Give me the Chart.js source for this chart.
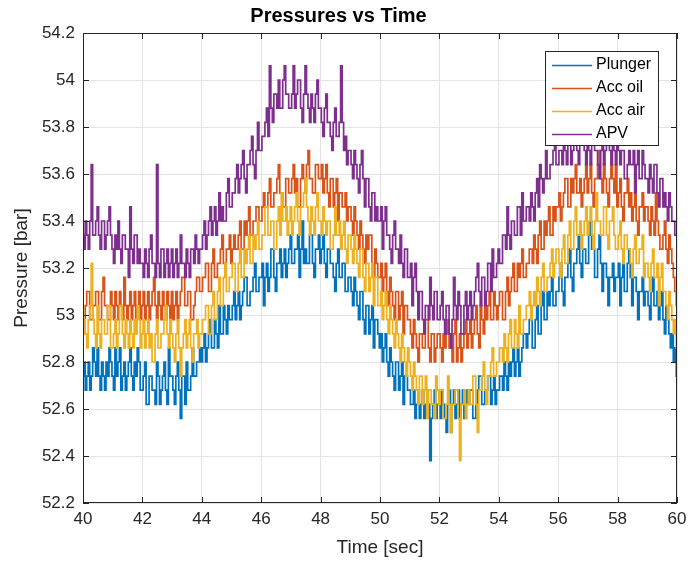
<!DOCTYPE html>
<html>
<head>
<meta charset="utf-8">
<script src="https://cdn.jsdelivr.net/npm/chart.js@4.4.0/dist/chart.umd.min.js"></script>
<style>
  html, body { margin: 0; padding: 0; background: #fff; }
  canvas { display: block; }
</style>
</head>
<body>
<canvas id="grafico" width="688" height="563"></canvas>
<script>
// tempo em segundos, amostrado a cada 0.05 s (uma linha = 1 segundo)
const tempos = [
  40.00, 40.05, 40.10, 40.15, 40.20, 40.25, 40.30, 40.35, 40.40, 40.45, 40.50, 40.55, 40.60, 40.65, 40.70, 40.75, 40.80, 40.85, 40.90, 40.95,
  41.00, 41.05, 41.10, 41.15, 41.20, 41.25, 41.30, 41.35, 41.40, 41.45, 41.50, 41.55, 41.60, 41.65, 41.70, 41.75, 41.80, 41.85, 41.90, 41.95,
  42.00, 42.05, 42.10, 42.15, 42.20, 42.25, 42.30, 42.35, 42.40, 42.45, 42.50, 42.55, 42.60, 42.65, 42.70, 42.75, 42.80, 42.85, 42.90, 42.95,
  43.00, 43.05, 43.10, 43.15, 43.20, 43.25, 43.30, 43.35, 43.40, 43.45, 43.50, 43.55, 43.60, 43.65, 43.70, 43.75, 43.80, 43.85, 43.90, 43.95,
  44.00, 44.05, 44.10, 44.15, 44.20, 44.25, 44.30, 44.35, 44.40, 44.45, 44.50, 44.55, 44.60, 44.65, 44.70, 44.75, 44.80, 44.85, 44.90, 44.95,
  45.00, 45.05, 45.10, 45.15, 45.20, 45.25, 45.30, 45.35, 45.40, 45.45, 45.50, 45.55, 45.60, 45.65, 45.70, 45.75, 45.80, 45.85, 45.90, 45.95,
  46.00, 46.05, 46.10, 46.15, 46.20, 46.25, 46.30, 46.35, 46.40, 46.45, 46.50, 46.55, 46.60, 46.65, 46.70, 46.75, 46.80, 46.85, 46.90, 46.95,
  47.00, 47.05, 47.10, 47.15, 47.20, 47.25, 47.30, 47.35, 47.40, 47.45, 47.50, 47.55, 47.60, 47.65, 47.70, 47.75, 47.80, 47.85, 47.90, 47.95,
  48.00, 48.05, 48.10, 48.15, 48.20, 48.25, 48.30, 48.35, 48.40, 48.45, 48.50, 48.55, 48.60, 48.65, 48.70, 48.75, 48.80, 48.85, 48.90, 48.95,
  49.00, 49.05, 49.10, 49.15, 49.20, 49.25, 49.30, 49.35, 49.40, 49.45, 49.50, 49.55, 49.60, 49.65, 49.70, 49.75, 49.80, 49.85, 49.90, 49.95,
  50.00, 50.05, 50.10, 50.15, 50.20, 50.25, 50.30, 50.35, 50.40, 50.45, 50.50, 50.55, 50.60, 50.65, 50.70, 50.75, 50.80, 50.85, 50.90, 50.95,
  51.00, 51.05, 51.10, 51.15, 51.20, 51.25, 51.30, 51.35, 51.40, 51.45, 51.50, 51.55, 51.60, 51.65, 51.70, 51.75, 51.80, 51.85, 51.90, 51.95,
  52.00, 52.05, 52.10, 52.15, 52.20, 52.25, 52.30, 52.35, 52.40, 52.45, 52.50, 52.55, 52.60, 52.65, 52.70, 52.75, 52.80, 52.85, 52.90, 52.95,
  53.00, 53.05, 53.10, 53.15, 53.20, 53.25, 53.30, 53.35, 53.40, 53.45, 53.50, 53.55, 53.60, 53.65, 53.70, 53.75, 53.80, 53.85, 53.90, 53.95,
  54.00, 54.05, 54.10, 54.15, 54.20, 54.25, 54.30, 54.35, 54.40, 54.45, 54.50, 54.55, 54.60, 54.65, 54.70, 54.75, 54.80, 54.85, 54.90, 54.95,
  55.00, 55.05, 55.10, 55.15, 55.20, 55.25, 55.30, 55.35, 55.40, 55.45, 55.50, 55.55, 55.60, 55.65, 55.70, 55.75, 55.80, 55.85, 55.90, 55.95,
  56.00, 56.05, 56.10, 56.15, 56.20, 56.25, 56.30, 56.35, 56.40, 56.45, 56.50, 56.55, 56.60, 56.65, 56.70, 56.75, 56.80, 56.85, 56.90, 56.95,
  57.00, 57.05, 57.10, 57.15, 57.20, 57.25, 57.30, 57.35, 57.40, 57.45, 57.50, 57.55, 57.60, 57.65, 57.70, 57.75, 57.80, 57.85, 57.90, 57.95,
  58.00, 58.05, 58.10, 58.15, 58.20, 58.25, 58.30, 58.35, 58.40, 58.45, 58.50, 58.55, 58.60, 58.65, 58.70, 58.75, 58.80, 58.85, 58.90, 58.95,
  59.00, 59.05, 59.10, 59.15, 59.20, 59.25, 59.30, 59.35, 59.40, 59.45, 59.50, 59.55, 59.60, 59.65, 59.70, 59.75, 59.80, 59.85, 59.90, 59.95,
  60.00
]

const plunger = [
  52.74, 52.80, 52.68, 52.74, 52.80, 52.68, 52.74, 52.86, 52.80, 52.74, 52.86, 52.74, 52.68, 52.80, 52.74, 52.68, 52.80, 52.74, 52.86, 52.80,
  52.74, 52.68, 52.86, 52.74, 52.80, 52.86, 52.68, 52.74, 52.80, 52.68, 52.74, 52.80, 52.86, 52.74, 52.68, 52.80, 52.74, 52.86, 52.80, 52.68,
  52.68, 52.74, 52.80, 52.62, 52.62, 52.74, 52.74, 52.68, 52.68, 52.62, 52.80, 52.74, 52.62, 52.68, 52.74, 52.80, 52.68, 52.62, 52.86, 52.74,
  52.74, 52.68, 52.62, 52.74, 52.80, 52.68, 52.56, 52.74, 52.74, 52.62, 52.80, 52.68, 52.68, 52.74, 52.86, 52.74, 52.74, 52.80, 52.80, 52.86,
  52.80, 52.86, 52.92, 52.80, 52.86, 52.92, 52.98, 52.86, 52.86, 52.98, 52.92, 52.86, 53.04, 52.92, 52.92, 53.04, 52.98, 52.92, 53.04, 52.98,
  52.98, 53.04, 53.10, 52.98, 53.04, 53.10, 52.98, 53.04, 53.10, 53.16, 53.16, 53.04, 53.04, 53.10, 53.10, 53.16, 53.22, 53.10, 53.10, 53.16,
  53.16, 53.22, 53.04, 53.16, 53.22, 53.10, 53.16, 53.28, 53.28, 53.16, 53.10, 53.22, 53.22, 53.28, 53.16, 53.22, 53.28, 53.16, 53.22, 53.28,
  53.34, 53.22, 53.22, 53.28, 53.28, 53.34, 53.16, 53.28, 53.40, 53.22, 53.28, 53.22, 53.22, 53.34, 53.34, 53.22, 53.16, 53.28, 53.28, 53.34,
  53.22, 53.28, 53.34, 53.22, 53.16, 53.28, 53.28, 53.22, 53.22, 53.16, 53.10, 53.22, 53.28, 53.16, 53.16, 53.22, 53.22, 53.10, 53.10, 53.16,
  53.16, 53.10, 53.04, 53.16, 53.10, 53.04, 52.98, 53.10, 53.10, 52.98, 52.92, 53.04, 53.04, 52.92, 52.98, 53.04, 52.86, 52.98, 52.98, 52.92,
  52.86, 52.92, 52.80, 52.86, 52.92, 52.80, 52.74, 52.86, 52.80, 52.74, 52.68, 52.80, 52.80, 52.68, 52.74, 52.80, 52.62, 52.74, 52.74, 52.68,
  52.68, 52.62, 52.62, 52.68, 52.56, 52.62, 52.68, 52.56, 52.62, 52.68, 52.56, 52.62, 52.68, 52.62, 52.38, 52.56, 52.62, 52.68, 52.56, 52.62,
  52.62, 52.56, 52.68, 52.62, 52.56, 52.50, 52.62, 52.68, 52.50, 52.62, 52.68, 52.56, 52.62, 52.68, 52.56, 52.62, 52.68, 52.56, 52.62, 52.68,
  52.62, 52.68, 52.68, 52.56, 52.56, 52.62, 52.68, 52.74, 52.74, 52.62, 52.62, 52.68, 52.68, 52.74, 52.74, 52.62, 52.68, 52.74, 52.62, 52.68,
  52.68, 52.74, 52.74, 52.68, 52.80, 52.74, 52.68, 52.80, 52.74, 52.80, 52.86, 52.74, 52.80, 52.86, 52.74, 52.80, 52.86, 52.92, 52.92, 52.86,
  52.92, 52.98, 52.98, 52.86, 52.86, 52.98, 53.04, 52.92, 52.92, 53.04, 53.10, 52.98, 52.98, 53.10, 53.04, 53.10, 53.16, 53.04, 53.04, 53.10,
  53.10, 53.16, 53.22, 53.10, 53.04, 53.16, 53.16, 53.22, 53.28, 53.16, 53.10, 53.22, 53.22, 53.28, 53.34, 53.22, 53.16, 53.28, 53.28, 53.22,
  53.22, 53.34, 53.40, 53.28, 53.28, 53.16, 53.16, 53.28, 53.34, 53.22, 53.10, 53.22, 53.22, 53.16, 53.04, 53.16, 53.16, 53.22, 53.10, 53.16,
  53.16, 53.22, 53.04, 53.16, 53.22, 53.10, 53.10, 53.22, 53.28, 53.16, 53.04, 53.16, 53.16, 53.10, 52.98, 53.10, 53.10, 53.16, 53.04, 53.10,
  53.10, 53.04, 52.98, 53.10, 53.16, 53.04, 53.04, 53.10, 52.98, 53.04, 53.10, 52.98, 52.92, 53.04, 52.98, 52.92, 52.86, 52.92, 52.80, 52.86,
  52.74
]

const accOil = [
  52.92, 52.98, 53.04, 53.10, 53.10, 52.98, 52.98, 53.04, 53.04, 53.10, 53.10, 52.98, 52.98, 53.10, 53.16, 53.04, 53.04, 52.98, 52.98, 53.10,
  53.04, 52.98, 53.10, 53.04, 52.98, 53.10, 53.04, 52.98, 53.16, 53.04, 52.98, 53.04, 53.10, 52.98, 53.04, 53.10, 52.98, 53.04, 53.10, 52.98,
  53.04, 53.10, 52.98, 53.04, 53.10, 52.98, 53.04, 53.10, 53.16, 53.04, 52.98, 53.10, 53.04, 52.98, 53.10, 53.04, 52.98, 53.10, 53.04, 52.98,
  53.10, 52.98, 53.04, 53.10, 52.98, 53.04, 53.10, 53.16, 53.16, 53.04, 53.04, 53.10, 53.10, 52.98, 52.98, 53.04, 53.10, 53.16, 53.16, 53.10,
  53.10, 53.16, 53.16, 53.22, 53.22, 53.10, 53.10, 53.22, 53.28, 53.16, 53.16, 53.22, 53.22, 53.28, 53.34, 53.22, 53.22, 53.28, 53.28, 53.34,
  53.22, 53.28, 53.34, 53.28, 53.28, 53.34, 53.40, 53.28, 53.28, 53.40, 53.34, 53.40, 53.46, 53.34, 53.34, 53.40, 53.40, 53.46, 53.46, 53.40,
  53.40, 53.46, 53.52, 53.46, 53.46, 53.52, 53.58, 53.46, 53.46, 53.52, 53.52, 53.58, 53.64, 53.52, 53.52, 53.46, 53.46, 53.58, 53.58, 53.52,
  53.52, 53.58, 53.64, 53.52, 53.58, 53.46, 53.46, 53.58, 53.64, 53.58, 53.52, 53.64, 53.70, 53.58, 53.58, 53.52, 53.52, 53.64, 53.64, 53.58,
  53.58, 53.64, 53.52, 53.58, 53.64, 53.52, 53.46, 53.58, 53.58, 53.46, 53.52, 53.58, 53.40, 53.52, 53.52, 53.46, 53.46, 53.52, 53.40, 53.46,
  53.46, 53.40, 53.34, 53.46, 53.40, 53.34, 53.28, 53.40, 53.34, 53.28, 53.22, 53.34, 53.28, 53.34, 53.34, 53.22, 53.16, 53.28, 53.22, 53.16,
  53.16, 53.22, 53.10, 53.16, 53.22, 53.10, 53.04, 53.16, 53.10, 53.04, 52.98, 53.10, 53.10, 52.98, 53.04, 53.10, 52.92, 53.04, 53.04, 52.98,
  52.98, 52.92, 52.86, 52.98, 52.92, 52.86, 52.80, 52.92, 52.92, 52.86, 52.86, 52.98, 52.98, 52.86, 52.80, 52.92, 52.92, 52.80, 52.86, 52.92,
  52.92, 52.86, 52.80, 52.92, 52.86, 52.92, 52.98, 52.86, 52.86, 52.80, 52.92, 52.98, 52.80, 52.86, 52.92, 52.80, 52.86, 52.92, 52.98, 52.86,
  52.92, 52.98, 52.86, 52.92, 52.98, 53.04, 52.92, 52.86, 53.04, 52.98, 52.92, 53.04, 52.98, 53.04, 53.10, 52.98, 52.98, 53.10, 53.04, 52.98,
  53.04, 53.10, 53.10, 52.98, 52.98, 53.10, 53.16, 53.04, 53.10, 53.16, 53.22, 53.10, 53.10, 53.22, 53.16, 53.22, 53.28, 53.16, 53.16, 53.22,
  53.22, 53.28, 53.28, 53.22, 53.34, 53.28, 53.22, 53.34, 53.40, 53.28, 53.28, 53.40, 53.34, 53.40, 53.46, 53.34, 53.34, 53.46, 53.40, 53.46,
  53.46, 53.52, 53.40, 53.46, 53.52, 53.58, 53.58, 53.46, 53.46, 53.58, 53.52, 53.58, 53.64, 53.52, 53.52, 53.58, 53.46, 53.52, 53.58, 53.64,
  53.52, 53.58, 53.64, 53.52, 53.46, 53.58, 53.58, 53.64, 53.70, 53.58, 53.52, 53.64, 53.58, 53.52, 53.46, 53.58, 53.64, 53.58, 53.52, 53.64,
  53.46, 53.52, 53.58, 53.46, 53.40, 53.52, 53.52, 53.58, 53.46, 53.52, 53.40, 53.46, 53.52, 53.40, 53.34, 53.46, 53.46, 53.52, 53.40, 53.46,
  53.46, 53.40, 53.34, 53.46, 53.40, 53.34, 53.52, 53.40, 53.34, 53.28, 53.28, 53.34, 53.40, 53.28, 53.22, 53.34, 53.28, 53.22, 53.16, 53.10,
  53.04
]

const accAir = [
  53.04, 52.98, 52.92, 52.86, 52.98, 53.04, 53.22, 52.98, 52.92, 52.86, 53.04, 52.92, 52.86, 52.98, 52.98, 52.92, 52.92, 53.04, 53.04, 52.86,
  52.86, 52.92, 52.98, 52.86, 52.92, 53.04, 53.04, 52.92, 52.86, 52.98, 52.92, 52.86, 52.98, 52.92, 52.86, 52.98, 52.92, 53.04, 52.98, 52.86,
  52.92, 52.98, 52.86, 52.92, 52.98, 52.86, 52.92, 52.80, 52.80, 52.92, 52.98, 52.86, 52.86, 52.92, 52.92, 52.98, 53.04, 52.92, 52.86, 52.98,
  52.92, 52.86, 52.80, 52.92, 52.98, 52.86, 52.74, 52.86, 52.92, 52.98, 52.86, 52.92, 52.98, 52.86, 52.80, 52.92, 52.92, 52.98, 52.86, 52.92,
  52.92, 52.98, 52.98, 53.04, 53.04, 52.92, 52.92, 53.04, 53.10, 52.98, 52.98, 53.10, 53.16, 53.04, 53.04, 53.16, 53.22, 53.10, 53.10, 53.16,
  53.16, 53.22, 53.22, 53.10, 53.10, 53.22, 53.28, 53.16, 53.16, 53.28, 53.22, 53.28, 53.34, 53.22, 53.22, 53.34, 53.28, 53.34, 53.40, 53.28,
  53.28, 53.34, 53.34, 53.46, 53.46, 53.34, 53.34, 53.40, 53.40, 53.28, 53.28, 53.40, 53.46, 53.34, 53.52, 53.40, 53.40, 53.46, 53.34, 53.40,
  53.46, 53.34, 53.40, 53.46, 53.52, 53.40, 53.34, 53.46, 53.46, 53.52, 53.58, 53.46, 53.40, 53.34, 53.46, 53.40, 53.34, 53.46, 53.52, 53.40,
  53.40, 53.34, 53.46, 53.40, 53.34, 53.40, 53.40, 53.28, 53.28, 53.34, 53.46, 53.34, 53.34, 53.40, 53.28, 53.34, 53.40, 53.28, 53.22, 53.34,
  53.34, 53.28, 53.22, 53.34, 53.28, 53.22, 53.16, 53.28, 53.28, 53.16, 53.10, 53.22, 53.22, 53.10, 53.16, 53.22, 53.04, 53.16, 53.16, 53.04,
  53.04, 53.10, 52.98, 53.04, 53.10, 52.98, 52.92, 53.04, 52.98, 52.92, 52.86, 52.98, 52.92, 52.86, 52.80, 52.92, 52.86, 52.80, 52.74, 52.86,
  52.80, 52.74, 52.68, 52.80, 52.74, 52.68, 52.62, 52.74, 52.74, 52.62, 52.68, 52.74, 52.56, 52.68, 52.68, 52.62, 52.62, 52.56, 52.74, 52.68,
  52.62, 52.68, 52.68, 52.56, 52.56, 52.62, 52.74, 52.62, 52.50, 52.62, 52.62, 52.68, 52.68, 52.56, 52.38, 52.62, 52.62, 52.68, 52.56, 52.62,
  52.68, 52.62, 52.62, 52.74, 52.74, 52.62, 52.50, 52.68, 52.68, 52.74, 52.80, 52.68, 52.62, 52.74, 52.74, 52.80, 52.86, 52.74, 52.74, 52.80,
  52.80, 52.86, 52.86, 52.80, 52.92, 52.86, 52.80, 52.92, 52.98, 52.86, 52.86, 52.98, 52.92, 52.86, 53.04, 52.92, 52.92, 52.98, 52.98, 53.04,
  53.04, 53.10, 52.98, 53.04, 53.10, 53.04, 53.16, 53.10, 53.04, 53.16, 53.22, 53.10, 53.10, 53.16, 53.16, 53.22, 53.28, 53.16, 53.22, 53.28,
  53.28, 53.22, 53.16, 53.28, 53.34, 53.22, 53.22, 53.34, 53.40, 53.28, 53.28, 53.40, 53.46, 53.34, 53.34, 53.40, 53.28, 53.34, 53.40, 53.46,
  53.34, 53.40, 53.46, 53.34, 53.28, 53.40, 53.52, 53.40, 53.40, 53.34, 53.34, 53.46, 53.46, 53.34, 53.28, 53.40, 53.40, 53.46, 53.34, 53.28,
  53.28, 53.34, 53.40, 53.28, 53.22, 53.34, 53.34, 53.28, 53.28, 53.22, 53.16, 53.28, 53.34, 53.22, 53.22, 53.28, 53.28, 53.34, 53.16, 53.22,
  53.22, 53.16, 53.10, 53.22, 53.28, 53.16, 53.16, 53.22, 53.04, 53.16, 53.22, 53.10, 53.10, 53.04, 52.98, 53.10, 53.04, 52.98, 52.92, 52.98,
  52.86
]

const apv = [
  53.34, 53.28, 53.40, 53.34, 53.28, 53.40, 53.64, 53.34, 53.34, 53.40, 53.46, 53.34, 53.28, 53.40, 53.40, 53.28, 53.34, 53.40, 53.46, 53.34,
  53.28, 53.22, 53.34, 53.28, 53.40, 53.28, 53.22, 53.34, 53.34, 53.28, 53.28, 53.16, 53.46, 53.28, 53.22, 53.34, 53.34, 53.22, 53.28, 53.22,
  53.22, 53.16, 53.28, 53.22, 53.16, 53.28, 53.34, 53.22, 53.22, 53.16, 53.64, 53.22, 53.16, 53.28, 53.28, 53.16, 53.22, 53.28, 53.16, 53.22,
  53.28, 53.16, 53.22, 53.28, 53.16, 53.22, 53.34, 53.22, 53.22, 53.16, 53.28, 53.22, 53.16, 53.28, 53.28, 53.22, 53.34, 53.28, 53.22, 53.28,
  53.28, 53.34, 53.40, 53.28, 53.34, 53.40, 53.46, 53.34, 53.40, 53.46, 53.34, 53.40, 53.52, 53.40, 53.46, 53.40, 53.40, 53.52, 53.58, 53.46,
  53.46, 53.52, 53.52, 53.58, 53.64, 53.52, 53.58, 53.64, 53.70, 53.58, 53.52, 53.64, 53.64, 53.70, 53.76, 53.64, 53.58, 53.70, 53.82, 53.70,
  53.70, 53.76, 53.76, 53.82, 53.88, 53.76, 54.06, 53.88, 53.82, 53.94, 53.94, 53.88, 54.00, 53.88, 53.88, 54.00, 54.06, 53.94, 53.94, 53.88,
  53.88, 53.94, 54.06, 53.88, 53.94, 54.00, 54.00, 53.88, 53.82, 53.94, 54.06, 53.94, 53.88, 53.82, 53.94, 53.88, 53.82, 53.94, 54.00, 53.88,
  53.88, 53.82, 53.76, 53.88, 53.94, 53.82, 53.82, 53.76, 53.70, 53.82, 53.88, 53.76, 53.76, 53.82, 54.06, 53.82, 53.70, 53.76, 53.64, 53.70,
  53.70, 53.64, 53.58, 53.70, 53.64, 53.58, 53.52, 53.64, 53.70, 53.58, 53.46, 53.58, 53.58, 53.46, 53.40, 53.52, 53.52, 53.40, 53.46, 53.40,
  53.40, 53.46, 53.28, 53.40, 53.46, 53.34, 53.34, 53.28, 53.22, 53.34, 53.40, 53.28, 53.28, 53.22, 53.34, 53.22, 53.16, 53.28, 53.28, 53.16,
  53.16, 53.22, 53.04, 53.16, 53.22, 53.10, 52.98, 53.10, 53.10, 52.98, 52.92, 53.04, 53.04, 52.98, 53.16, 53.04, 52.98, 53.10, 53.10, 52.98,
  52.98, 53.04, 53.10, 52.98, 52.92, 53.04, 53.04, 52.92, 52.86, 52.98, 53.16, 53.04, 52.98, 53.10, 53.04, 52.92, 52.92, 53.04, 53.10, 52.98,
  53.04, 53.10, 52.98, 53.04, 53.10, 53.16, 53.22, 53.10, 53.04, 53.16, 53.16, 53.04, 53.10, 53.22, 53.22, 53.10, 53.28, 53.16, 53.16, 53.22,
  53.28, 53.22, 53.22, 53.34, 53.34, 53.28, 53.46, 53.34, 53.28, 53.40, 53.40, 53.34, 53.34, 53.46, 53.46, 53.34, 53.52, 53.40, 53.40, 53.46,
  53.46, 53.40, 53.52, 53.46, 53.40, 53.52, 53.58, 53.46, 53.64, 53.58, 53.52, 53.58, 53.70, 53.58, 53.58, 53.64, 53.64, 53.70, 53.76, 53.64,
  53.64, 53.70, 53.70, 53.64, 53.82, 53.70, 53.64, 53.76, 53.76, 53.64, 53.70, 53.82, 53.82, 53.70, 53.64, 53.76, 53.76, 53.82, 53.70, 53.64,
  53.76, 53.70, 53.64, 53.76, 53.82, 53.70, 53.70, 53.64, 53.58, 53.70, 53.76, 53.64, 53.70, 53.76, 53.82, 53.70, 53.64, 53.76, 53.70, 53.64,
  53.76, 53.70, 53.64, 53.70, 53.70, 53.58, 53.58, 53.64, 53.70, 53.64, 53.64, 53.70, 53.52, 53.64, 53.70, 53.58, 53.58, 53.70, 53.64, 53.58,
  53.58, 53.52, 53.64, 53.58, 53.52, 53.64, 53.64, 53.52, 53.46, 53.58, 53.58, 53.46, 53.52, 53.46, 53.40, 53.52, 53.46, 53.40, 53.40, 53.34,
  53.34
]

const series = [
  { nome: 'Plunger', valores: plunger, cor: '#0072BD' },
  { nome: 'Acc oil', valores: accOil, cor: '#D95319' },
  { nome: 'Acc air', valores: accAir, cor: '#EDB120' },
  { nome: 'APV', valores: apv, cor: '#7E2F8E' }
]

const fonte = 'Liberation Sans, Arial, sans-serif'
const corTexto = '#262626'

// no chart.js o primeiro dataset fica por cima, entao inverte (APV por cima como no matlab)
const datasets = series.slice().reverse().map(s => ({
  label: s.nome,
  data: tempos.map((t, i) => ({ x: t, y: s.valores[i] })),
  borderColor: s.cor,
  borderWidth: 1.7,
  pointRadius: 0,
  stepped: 'middle',
  fill: false
}))

// caixa dos eixos + ticks pra dentro + legenda estilo matlab
const caixaMatlab = {
  id: 'caixaMatlab',
  afterDraw(chart) {
    const c = chart.ctx
    const a = chart.chartArea
    const xs = chart.scales.x
    const ys = chart.scales.y
    c.save()
    c.strokeStyle = corTexto
    c.lineWidth = 1
    c.strokeRect(a.left + 0.5, a.top + 0.5, a.right - a.left - 1, a.bottom - a.top - 1)

    c.beginPath()
    xs.ticks.forEach(t => {
      const px = Math.round(xs.getPixelForValue(t.value)) + 0.5
      c.moveTo(px, a.bottom); c.lineTo(px, a.bottom - 6)
      c.moveTo(px, a.top); c.lineTo(px, a.top + 6)
    })
    ys.ticks.forEach(t => {
      const py = Math.round(ys.getPixelForValue(t.value)) + 0.5
      c.moveTo(a.left, py); c.lineTo(a.left + 6, py)
      c.moveTo(a.right, py); c.lineTo(a.right - 6, py)
    })
    c.stroke()

    // legenda
    const lx = 545, ly = 51, lw = 113, lh = 94
    c.fillStyle = '#fff'
    c.fillRect(lx, ly, lw, lh)
    c.strokeStyle = corTexto
    c.strokeRect(lx + 0.5, ly + 0.5, lw, lh)
    c.font = '16px ' + fonte
    c.textBaseline = 'middle'
    c.textAlign = 'left'
    c.lineWidth = 1.3
    series.forEach((s, i) => {
      const y = ly + 14 + i * 23
      c.strokeStyle = s.cor
      c.beginPath()
      c.moveTo(lx + 7, y + 0.5)
      c.lineTo(lx + 47, y + 0.5)
      c.stroke()
      c.fillStyle = '#000'
      c.fillText(s.nome, lx + 51, y)
    })
    c.restore()
  }
}

const ctx = document.getElementById('grafico')

new Chart(ctx, {
  type: 'line',
  data: { datasets: datasets },
  plugins: [caixaMatlab],
  options: {
    responsive: false,
    animation: false,
    events: [],
    layout: { padding: { left: 0, right: 11, top: 0, bottom: 0 } },
    plugins: {
      legend: { display: false },
      tooltip: { enabled: false },
      title: {
        display: true,
        text: 'Pressures vs Time',
        color: '#000',
        font: { family: fonte, size: 20, weight: 'bold' },
        padding: { top: 4, bottom: 5 }
      }
    },
    scales: {
      x: {
        type: 'linear',
        min: 40,
        max: 60,
        ticks: {
          stepSize: 2,
          color: corTexto,
          font: { family: fonte, size: 17 },
          padding: 6,
          maxRotation: 0
        },
        grid: { color: '#e3e3e3', drawTicks: false },
        border: { display: false },
        title: {
          display: true,
          text: 'Time [sec]',
          color: corTexto,
          font: { family: fonte, size: 19 },
          padding: { top: 0, bottom: 4 }
        },
        afterFit: s => {
          s.height = 60
          s.paddingLeft = 0
          s.paddingRight = 0
        }
      },
      y: {
        min: 52.2,
        max: 54.2,
        ticks: {
          stepSize: 0.2,
          color: corTexto,
          font: { family: fonte, size: 17 },
          padding: 8,
          callback: v => String(+v.toFixed(1))
        },
        grid: { color: '#e3e3e3', drawTicks: false },
        border: { display: false },
        title: {
          display: true,
          text: 'Pressure [bar]',
          color: corTexto,
          font: { family: fonte, size: 19 },
          padding: { top: 10, bottom: 0 }
        },
        afterFit: s => { s.width = 83 }
      }
    }
  }
})
</script>
</body>
</html>
